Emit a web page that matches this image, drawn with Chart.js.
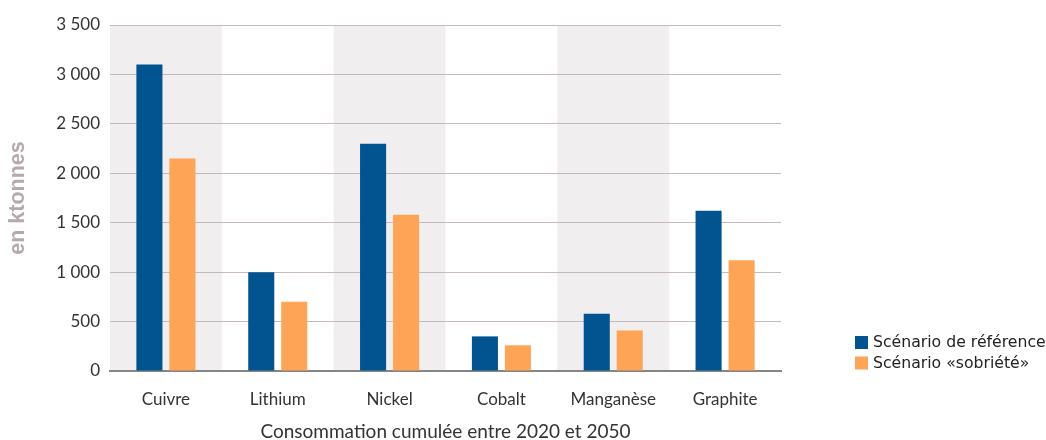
<!DOCTYPE html>
<html>
<head>
<meta charset="utf-8">
<script src="https://cdn.jsdelivr.net/npm/chart.js@4"></script>
<style>
  html, body { margin: 0; padding: 0; background: #fff; }
  #wrap { width: 1046px; height: 440px; }
</style>
</head>
<body>
<div id="wrap"><canvas id="myChart"></canvas></div>
<script>
'use strict';

const categories = ['Cuivre', 'Lithium', 'Nickel', 'Cobalt', 'Manganèse', 'Graphite'];
const seriesNames = ['Scénario de référence', 'Scénario «sobriété»'];
const referenceValues = [3100, 1000, 2300, 350, 580, 1620];
const sobrieteValues = [2150, 700, 1580, 260, 410, 1120];
const yTicks = [0, 500, 1000, 1500, 2000, 2500, 3000, 3500];

const blue = '#01548f';
const orange = '#fea457';

// grey bands behind every other category
const bands = {
  id: 'bands',
  beforeDraw(chart) {
    const { ctx, chartArea, scales } = chart;
    const x = scales.x;
    const w = (chartArea.right - chartArea.left) / categories.length;
    ctx.save();
    ctx.fillStyle = '#f0eeef';
    categories.forEach((c, i) => {
      if (i % 2 === 0) {
        const cx = x.getPixelForValue(i);
        ctx.fillRect(cx - w / 2, chartArea.top, w, chartArea.bottom - chartArea.top);
      }
    });
    ctx.restore();
  }
};

// legend at the lower right
const sideLegend = {
  id: 'sideLegend',
  afterDraw(chart) {
    const ctx = chart.ctx;
    ctx.save();
    ctx.font = '15.7px "DejaVu Sans"';
    ctx.textBaseline = 'middle';
    chart.data.datasets.forEach((ds, i) => {
      const y = 342.5 + i * 20.5;
      ctx.fillStyle = ds.backgroundColor;
      ctx.fillRect(855, y - 6.5, 13, 13);
      ctx.fillStyle = '#222';
      ctx.fillText(ds.label, 873, y + 0.5);
    });
    ctx.restore();
  }
};

const ctx = document.getElementById('myChart').getContext('2d');

const myChart = new Chart(ctx, {
  type: 'bar',
  data: {
    labels: categories,
    datasets: [{
      label: seriesNames[0],
      data: referenceValues,
      backgroundColor: blue,
      categoryPercentage: 0.59,
      barPercentage: 0.79
    }, {
      label: seriesNames[1],
      data: sobrieteValues,
      backgroundColor: orange,
      categoryPercentage: 0.59,
      barPercentage: 0.79
    }]
  },
  options: {
    responsive: true,
    maintainAspectRatio: false,
    animation: false,
    layout: { padding: { top: 25, right: 265, left: 0, bottom: 0 } },
    plugins: {
      legend: { display: false },
      tooltip: { enabled: false }
    },
    scales: {
      x: {
        grid: { display: false },
        border: { display: true, color: '#858585', width: 2 },
        ticks: { color: '#333', font: { family: 'Lato', size: 17 }, padding: 10 },
        title: {
          display: true,
          text: 'Consommation cumulée entre 2020 et 2050',
          color: '#333',
          font: { family: 'Lato', size: 19, lineHeight: 0.85 },
          padding: { top: 0, bottom: 0 }
        },
        afterFit(scale) { scale.height = 69; }
      },
      y: {
        min: 0,
        max: 3500,
        afterBuildTicks(scale) { scale.ticks = yTicks.map(v => ({ value: v })); },
        grid: { color: '#c6b8be', drawTicks: false },
        border: { display: false },
        ticks: {
          color: '#333',
          font: { family: 'Lato', size: 17 },
          padding: 10,
          callback: v => String(v).replace(/\B(?=(\d{3})+(?!\d))/g, ' ')
        },
        title: {
          display: true,
          text: 'en ktonnes',
          color: '#b6a9ae',
          font: { family: 'Liberation Sans', size: 21.5, weight: 'bold' },
          padding: { top: 5, bottom: 0 }
        },
        afterFit(scale) { scale.width = 110; }
      }
    }
  },
  plugins: [bands, sideLegend]
});
</script>
</body>
</html>
